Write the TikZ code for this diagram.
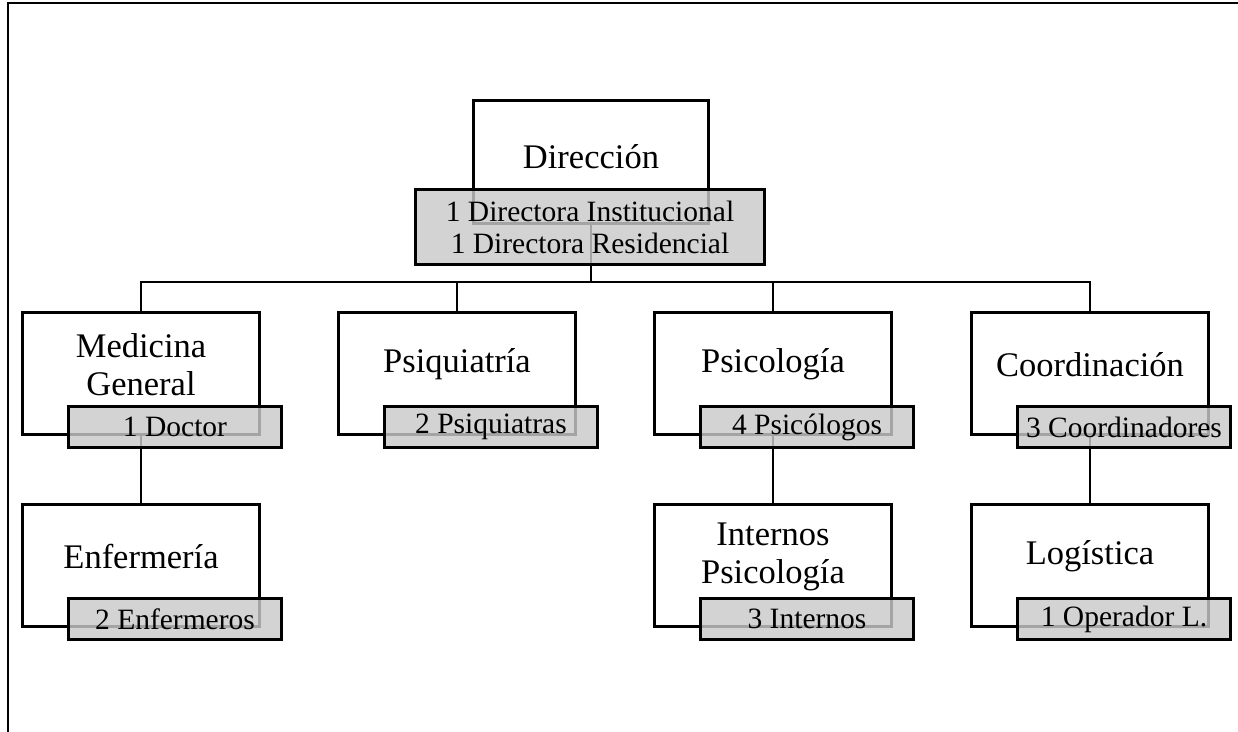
\documentclass[tikz,border=0pt]{standalone}
\usepackage{fontspec}
\setmainfont{Liberation Serif}
\begin{document}
\begin{tikzpicture}[x=0.5pt,y=-0.5pt,
  wbox/.style={draw, line width=1.5pt, minimum width=118.5pt, minimum height=61pt, inner sep=0pt, anchor=north west},
  gbox/.style={draw, line width=1.5pt, fill=gray!42, fill opacity=0.82, text opacity=1, minimum width=106.5pt, minimum height=20.5pt, inner sep=0pt, anchor=north west, font=\fontsize{14.75}{16}\selectfont, align=center},
  lbl/.style={font=\fontsize{17.25}{19}\selectfont, align=center, inner sep=0pt},
  conn/.style={line width=1.4pt}]
\useasboundingbox (0,0) rectangle (1238,732);
\draw[line width=1.3pt] (8,732) -- (8,3) -- (1238,3);
% white boxes
\node[wbox, minimum width=117.5pt, minimum height=61.5pt] (dir) at (472,99) {};
\node[wbox] (med) at (21,311) {};
\node[wbox] (psq) at (337,311) {};
\node[wbox] (psc) at (653,311) {};
\node[wbox] (coo) at (970,311) {};
\node[wbox] (enf) at (21,503) {};
\node[wbox] (int) at (653,503) {};
\node[wbox] (log) at (970,503) {};
\coordinate (bus) at (0,282);
% labels
\node[lbl, yshift=2.5pt] (dirt) at (dir.center) {Dirección};
\node[lbl, yshift=4.5pt] (medt) at (med.center) {Medicina\\General};
\node[lbl, yshift=4.5pt] (psqt) at (psq.center) {Psiquiatría};
\node[lbl, yshift=4.5pt] (psct) at (psc.center) {Psicología};
\node[lbl, yshift=4.5pt] (coot) at (coo.center) {Coordinación};
\node[lbl, yshift=4.5pt] (enft) at (enf.center) {Enfermería};
\node[lbl, yshift=4.5pt] (intt) at (int.center) {Internos\\Psicología};
\node[lbl, yshift=4.5pt] (logt) at (log.center) {Logística};
% connectors
\draw[conn] (dir.south) -- (dir.south |- bus);
\draw[conn] (med.north) -- (med.north |- bus) -| (coo.north);
\draw[conn] (psq.north) -- (psq.north |- bus);
\draw[conn] (psc.north) -- (psc.north |- bus);
\draw[conn] (med.south) -- (enf.north);
\draw[conn] (psc.south) -- (int.north);
\draw[conn] (coo.south) -- (log.north);
% gray boxes
\node[gbox, minimum width=174.5pt, minimum height=37.5pt] (dirg) at (414,188) {1 Directora Institucional\\1 Directora Residencial};
\node[gbox] (medg) at (67,405) {1 Doctor};
\node[gbox] (psqg) at (383,405) {2 Psiquiatras};
\node[gbox] (pscg) at (699,405) {4 Psicólogos};
\node[gbox] (coog) at (1016,405) {3 Coordinadores};
\node[gbox] (enfg) at (67,597) {2 Enfermeros};
\node[gbox] (intg) at (699,597) {3 Internos};
\node[gbox] (logg) at (1016,597) {1 Operador L.};
\end{tikzpicture}
\end{document}
